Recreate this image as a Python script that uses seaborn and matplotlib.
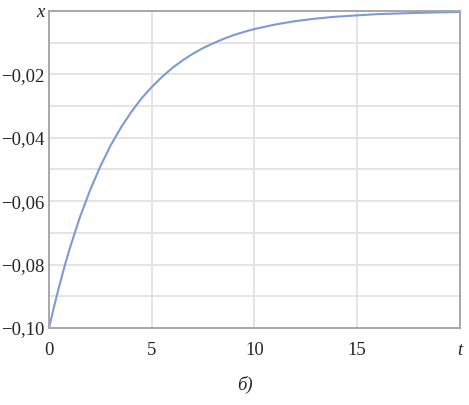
import numpy as np
import pandas as pd
import seaborn as sns
import matplotlib.pyplot as plt

# values
t_vals = [0, 0.25, 0.5, 0.75, 1, 1.5, 2, 2.5, 3, 3.5, 4, 4.5, 5, 5.5, 6, 6.5,
          7, 7.5, 8, 8.5, 9, 9.5, 10, 11, 12, 13, 14, 15, 16, 17, 18, 20]
x_vals = [-0.1000, -0.0931, -0.0867, -0.0807, -0.0751, -0.0651, -0.0565,
          -0.0490, -0.0424, -0.0368, -0.0319, -0.0276, -0.0240, -0.0208,
          -0.0180, -0.0156, -0.0135, -0.0117, -0.0102, -0.0088, -0.0076,
          -0.0066, -0.0057, -0.0043, -0.0032, -0.0024, -0.0018, -0.0014,
          -0.0010, -0.0008, -0.0006, -0.0003]
x_ticks = [0, 5, 10, 15, 20]
x_ticklabels = ['0', '5', '10', '15', 't']
y_ticks = [-0.10, -0.08, -0.06, -0.04, -0.02, 0.0]
y_ticklabels = ['\u22120,10', '\u22120,08', '\u22120,06', '\u22120,04', '\u22120,02', 'x']

df = pd.DataFrame({'t': t_vals, 'x': x_vals})

sns.set_style('white')
plt.rcParams['font.family'] = ['Liberation Serif', 'DejaVu Serif']

fig = plt.figure(figsize=(4.69, 4.05), dpi=100)
ax = fig.add_axes([0.1045, 0.19, 0.876, 0.783])

sns.lineplot(data=df, x='t', y='x', ax=ax, color='#7d9bd1', linewidth=1.5)

ax.set_xlim(0, 20)
ax.set_ylim(-0.1, 0)
ax.set_xticks(x_ticks)
ax.set_xticklabels(x_ticklabels, fontsize=13.5)
ax.set_yticks(y_ticks)
ax.set_yticklabels(y_ticklabels, fontsize=13.5)
ax.get_xticklabels()[-1].set_style('italic')
ax.get_yticklabels()[-1].set_style('italic')
ax.set_yticks(np.arange(-0.09, 0, 0.02), minor=True)

ax.grid(True, which='both', axis='y', color='#e4e4e4', linewidth=1.4)
ax.grid(True, which='major', axis='x', color='#e4e4e4', linewidth=1.4)
ax.tick_params(axis='y', which='both', length=0, pad=3.5)
ax.tick_params(axis='x', which='both', length=0, pad=10)
ax.set_xlabel('')
ax.set_ylabel('')
for s in ax.spines.values():
    s.set_color('#a8a8a8')
    s.set_linewidth(1.4)

fig.text(0.522, 0.038, '\u0431)', fontsize=13.5, style='italic', ha='center')

fig.savefig('out.png', dpi=100)
